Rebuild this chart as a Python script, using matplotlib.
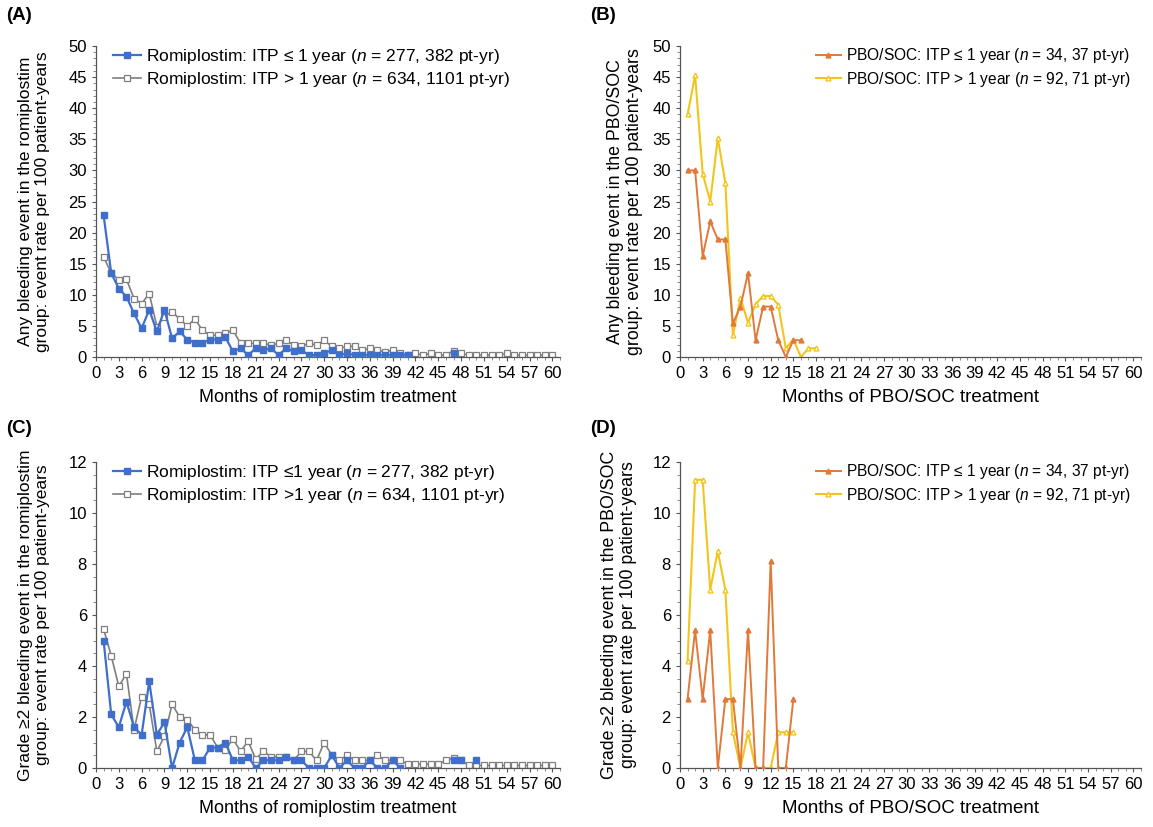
import numpy as np
import matplotlib
matplotlib.use('Agg')
import matplotlib.pyplot as plt
from matplotlib.ticker import MultipleLocator

plt.rcParams['font.family'] = ['Liberation Sans', 'DejaVu Sans']
plt.rcParams['mathtext.fontset'] = 'custom'
plt.rcParams['mathtext.it'] = 'Liberation Sans:italic'
plt.rcParams['mathtext.rm'] = 'Liberation Sans'

nan = np.nan

# (A) any bleeding, romiplostim, months 1..60
romi_le1_any = [22.8, 13.5, 11.0, 9.7, 7.0, 4.6, 7.6, 4.1, 7.6, 3.0, 4.1, 2.8, 2.3, 2.3, 2.8,
                2.8, 3.2, 0.9, 1.4, 0.3, 1.4, 1.1, 1.4, 0.3, 1.4, 0.9, 1.1, 0.3, 0.3, 0.6,
                1.1, 0.3, 0.6, 0.3, 0.3, 0.3, 0.3, 0.3, 0.3, 0.3, 0.3, nan, nan, nan, nan,
                nan, 0.6]
romi_gt1_any = [16.1, 13.5, 12.4, 12.5, 9.4, 8.6, 10.2, 4.9, 6.5, 7.3, 6.1, 5.0, 6.1, 4.3, 3.5,
                3.5, 3.8, 4.3, 2.2, 2.2, 2.2, 2.2, 1.9, 2.2, 2.7, 1.9, 1.7, 2.2, 1.9, 2.7,
                1.7, 1.4, 1.7, 1.7, 1.1, 1.4, 1.1, 0.8, 1.1, 0.6, 0.3, 0.6, 0.3, 0.6, 0.3,
                0.3, 1.0, 0.6, 0.3, 0.3, 0.3, 0.3, 0.3, 0.6, 0.3, 0.3, 0.3, 0.3, 0.3, 0.3]

# (B) any bleeding, PBO/SOC
pbo_le1_any = [30.0, 30.0, 16.2, 21.8, 18.9, 18.9, 5.4, 8.1, 13.5, 2.7, 8.1, 8.1, 2.7, 0.0, 2.7, 2.7]
pbo_gt1_any = [39.0, 45.3, 29.5, 25.0, 35.2, 28.0, 3.5, 9.5, 5.5, 8.5, 9.8, 9.8, 8.4, 1.4, 2.8,
               0.0, 1.4, 1.4]

# (C) grade >=2 bleeding, romiplostim
romi_le1_g2 = [5.0, 2.1, 1.6, 2.6, 1.6, 1.3, 3.4, 1.3, 1.8, 0.0, 1.0, 1.6, 0.3, 0.3, 0.8,
               0.8, 1.0, 0.3, 0.3, 0.45, 0.0, 0.3, 0.3, 0.3, 0.45, 0.3, 0.3, 0.0, 0.0, 0.0,
               0.5, 0.0, 0.3, 0.0, 0.0, 0.3, 0.0, 0.0, 0.3, 0.0, nan, nan, nan, nan, nan,
               nan, 0.3, 0.3, nan, 0.3]
romi_gt1_g2 = [5.45, 4.4, 3.2, 3.7, 1.5, 2.8, 2.5, 0.65, 1.25, 2.5, 2.0, 1.9, 1.5, 1.3, 1.3,
               0.8, 0.7, 1.15, 0.65, 1.05, 0.35, 0.65, 0.45, 0.45, 0.45, 0.3, 0.65, 0.65, 0.3, 1.0,
               0.5, 0.3, 0.5, 0.3, 0.3, 0.3, 0.5, 0.3, 0.3, 0.3, 0.15, 0.15, 0.15, 0.15, 0.15,
               0.3, 0.4, 0.3, 0.1, 0.1, 0.1, 0.1, 0.1, 0.1, 0.1, 0.1, 0.1, 0.1, 0.1, 0.1]

# (D) grade >=2 bleeding, PBO/SOC
pbo_le1_g2 = [2.7, 5.4, 2.7, 5.4, 0.0, 2.7, 2.7, 0.0, 5.4, 0.0, 0.0, 8.1, 0.0, 0.0, 2.7]
pbo_gt1_g2 = [4.2, 11.3, 11.3, 7.0, 8.5, 7.0, 1.4, 0.0, 1.4, 0.0, 0.0, 0.0, 1.4, 1.4, 1.4]

xticks = list(range(0, 61, 3))

blue = '#3f6fca'
grey = '#7f7f7f'
orange = '#e0793a'
yellow = '#f3c51c'

fig = plt.figure(figsize=(11.53, 8.27), dpi=100)
W, H = 1153, 827


def make_ax(left, top, right, bottom):
    return fig.add_axes([left / W, 1 - bottom / H, (right - left) / W, (bottom - top) / H])


def style(ax, ymax, ystep, yminor, xlabel, ylabel, xfs, yfs, ylab_x):
    ax.set_xlim(0, 61)
    ax.set_ylim(0, ymax)
    ax.set_xticks(xticks)
    ax.xaxis.set_minor_locator(MultipleLocator(1))
    ax.set_yticks(np.arange(0, ymax + 0.01, ystep))
    ax.yaxis.set_minor_locator(MultipleLocator(yminor))
    for s in ['top', 'right']:
        ax.spines[s].set_visible(False)
    for s in ['left', 'bottom']:
        ax.spines[s].set_color('#555555')
        ax.spines[s].set_linewidth(0.9)
    ax.tick_params(which='major', direction='out', length=3, labelsize=12, color='#555555')
    ax.tick_params(which='minor', direction='out', length=2, color='#777777')
    ax.set_xlabel(xlabel, fontsize=xfs, labelpad=6)
    ax.set_ylabel(ylabel, fontsize=yfs, linespacing=1.15)
    ax.yaxis.set_label_coords(ylab_x, 0.5)


def romi_plot(ax, le1, gt1, lab1, lab2):
    m1 = np.arange(1, len(le1) + 1)
    m2 = np.arange(1, len(gt1) + 1)
    ax.plot(m1, le1, color=blue, lw=1.6, marker='s', ms=4, mfc=blue, mec=blue, label=lab1, zorder=3)
    ax.plot(m2, gt1, color=grey, lw=1.2, marker='s', ms=4.5, mfc='white', mec=grey, mew=0.9,
            label=lab2, zorder=2)


def pbo_plot(ax, le1, gt1):
    m1 = np.arange(1, len(le1) + 1)
    m2 = np.arange(1, len(gt1) + 1)
    ax.plot(m1, le1, color=orange, lw=1.4, marker='^', ms=3.5, mfc=orange, mec=orange,
            label=r'PBO/SOC: ITP ≤ 1 year ($\it{n}$ = 34, 37 pt-yr)', zorder=3)
    ax.plot(m2, gt1, color=yellow, lw=1.5, marker='^', ms=3.5, mfc='white', mec=yellow,
            label=r'PBO/SOC: ITP > 1 year ($\it{n}$ = 92, 71 pt-yr)', zorder=2)


ylab_any_r = 'Any bleeding event in the romiplostim\ngroup: event rate per 100 patient-years'
ylab_any_p = 'Any bleeding event in the PBO/SOC\ngroup: event rate per 100 patient-years'
ylab_g2_r = 'Grade ≥2 bleeding event in the romiplostim\ngroup: event rate per 100 patient-years'
ylab_g2_p = 'Grade ≥2 bleeding event in the PBO/SOC\ngroup: event rate per 100 patient-years'

axA = make_ax(96, 46, 560, 357)
romi_plot(axA, romi_le1_any, romi_gt1_any,
          r'Romiplostim: ITP ≤ 1 year ($\it{n}$ = 277, 382 pt-yr)',
          r'Romiplostim: ITP > 1 year ($\it{n}$ = 634, 1101 pt-yr)')
style(axA, 50, 5, 1, 'Months of romiplostim treatment', ylab_any_r, 13, 12.5, -0.1)

axB = make_ax(680, 46, 1141, 357)
pbo_plot(axB, pbo_le1_any, pbo_gt1_any)
style(axB, 50, 5, 1, 'Months of PBO/SOC treatment', ylab_any_p, 13.5, 12.8, -0.08)

axC = make_ax(96, 462, 560, 768)
romi_plot(axC, romi_le1_g2, romi_gt1_g2,
          r'Romiplostim: ITP ≤1 year ($\it{n}$ = 277, 382 pt-yr)',
          r'Romiplostim: ITP >1 year ($\it{n}$ = 634, 1101 pt-yr)')
style(axC, 12, 2, 0.5, 'Months of romiplostim treatment', ylab_g2_r, 13, 12.5, -0.1)

axD = make_ax(680, 462, 1141, 768)
pbo_plot(axD, pbo_le1_g2, pbo_gt1_g2)
style(axD, 12, 2, 0.5, 'Months of PBO/SOC treatment', ylab_g2_p, 13.5, 12.8, -0.093)

for ax in [axA, axC]:
    ax.legend(loc='upper left', bbox_to_anchor=(0.01, 1.035), frameon=False, fontsize=12.5,
              handlelength=1.6, handletextpad=0.3, labelspacing=0.2, borderpad=0.2)
for ax in [axB, axD]:
    ax.legend(loc='upper right', bbox_to_anchor=(1.0, 1.035), frameon=False, fontsize=11.2,
              handlelength=1.6, handletextpad=0.3, labelspacing=0.3, borderpad=0.2)

for lab, x, y in [('(A)', 6, 16), ('(B)', 590, 16), ('(C)', 6, 428), ('(D)', 590, 428)]:
    fig.text(x / W, 1 - y / H, lab, fontsize=13.5, fontweight='bold', va='center', ha='left')

fig.savefig('out.png', dpi=100)
